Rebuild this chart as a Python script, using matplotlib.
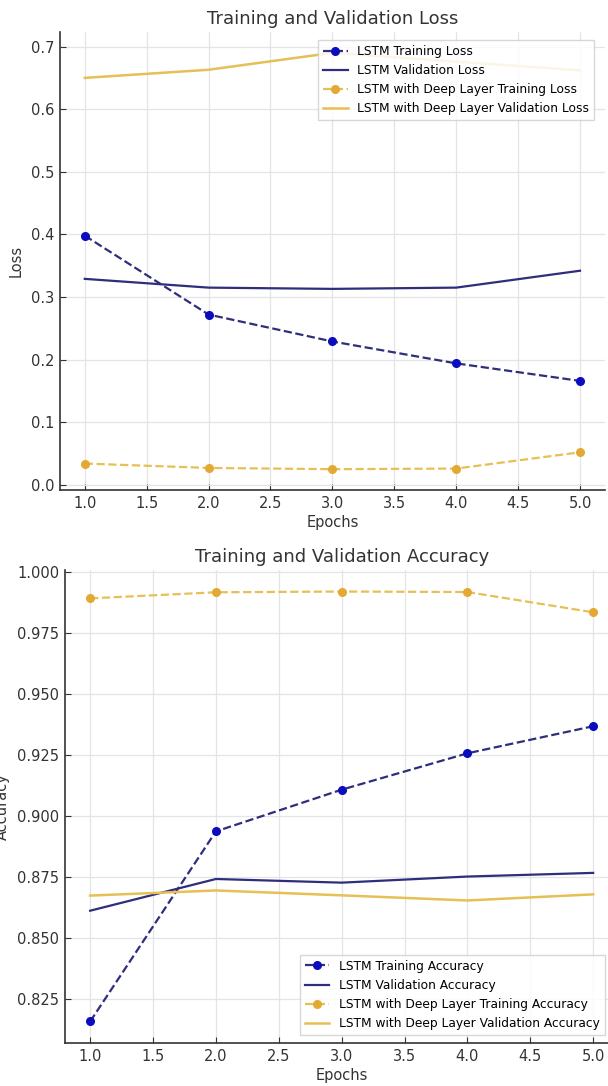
import matplotlib.pyplot as plt

epochs = [1, 2, 3, 4, 5]

lstm_train_loss = [0.398, 0.272, 0.229, 0.194, 0.166]
lstm_val_loss = [0.329, 0.315, 0.313, 0.315, 0.342]
deep_train_loss = [0.034, 0.027, 0.025, 0.026, 0.052]
deep_val_loss = [0.650, 0.663, 0.690, 0.676, 0.662]

lstm_train_acc = [0.8156, 0.8935, 0.9106, 0.9255, 0.9366]
lstm_val_acc = [0.861, 0.874, 0.8725, 0.875, 0.8765]
deep_train_acc = [0.9890, 0.9915, 0.9918, 0.9916, 0.9833]
deep_val_acc = [0.8672, 0.8693, 0.8673, 0.8652, 0.8677]

BLUE_LINE = "#2e2e7c"
BLUE_MARK = "#0c0cbf"
GOLD_LINE = "#e6bf55"
GOLD_MARK = "#e3aa33"
TEXT = "#333333"

plt.rcParams["font.family"] = "DejaVu Sans"

fig = plt.figure(figsize=(6.08, 10.86), dpi=100)
ax1 = fig.add_axes([0.0987, 0.5488, 0.896, 0.4217])
ax2 = fig.add_axes([0.1069, 0.0396, 0.91, 0.4355])


def style(ax):
    ax.grid(True, color="#e4e4e4", linestyle="-", linewidth=0.9)
    ax.set_axisbelow(True)
    for s in ("top", "right"):
        ax.spines[s].set_visible(False)
    for s in ("left", "bottom"):
        ax.spines[s].set_color(TEXT)
        ax.spines[s].set_linewidth(1.2)
    ax.tick_params(labelsize=10.5, colors=TEXT, direction="in", length=4, pad=4)


def draw(ax, series, labels):
    (tr, va, dtr, dva) = series
    ax.plot(epochs, tr, "--o", color=BLUE_LINE, mfc=BLUE_MARK, mec=BLUE_MARK,
            lw=1.6, ms=5.5, label=labels[0])
    ax.plot(epochs, va, "-", color=BLUE_LINE, lw=1.6, label=labels[1])
    ax.plot(epochs, dtr, "--o", color=GOLD_LINE, mfc=GOLD_MARK, mec=GOLD_MARK,
            lw=1.6, ms=5.5, label=labels[2])
    ax.plot(epochs, dva, "-", color=GOLD_LINE, lw=1.8, label=labels[3])


legend_kw = dict(fontsize=8.8, framealpha=0.85, edgecolor="#d0d0d0", fancybox=False,
                 handlelength=2.0, labelspacing=0.5, borderaxespad=0)

style(ax1)
draw(ax1, (lstm_train_loss, lstm_val_loss, deep_train_loss, deep_val_loss),
     ["LSTM Training Loss", "LSTM Validation Loss",
      "LSTM with Deep Layer Training Loss", "LSTM with Deep Layer Validation Loss"])
ax1.set_title("Training and Validation Loss", fontsize=13, color=TEXT)
ax1.set_xlabel("Epochs", fontsize=10.5, color=TEXT, labelpad=3)
ax1.set_ylabel("Loss", fontsize=10.5, color=TEXT, labelpad=5)
ax1.legend(loc="upper left", bbox_to_anchor=(0.474, 0.9825), **legend_kw)

style(ax2)
draw(ax2, (lstm_train_acc, lstm_val_acc, deep_train_acc, deep_val_acc),
     ["LSTM Training Accuracy", "LSTM Validation Accuracy",
      "LSTM with Deep Layer Training Accuracy", "LSTM with Deep Layer Validation Accuracy"])
ax2.set_title("Training and Validation Accuracy", fontsize=13, color=TEXT)
ax2.set_xlabel("Epochs", fontsize=10.5, color=TEXT, labelpad=3)
ax2.set_ylabel("Accuracy", fontsize=10.5, color=TEXT, labelpad=5)
ax2.legend(loc="lower left", bbox_to_anchor=(0.425, 0.017), **legend_kw)

fig.savefig("out.png", dpi=100)
